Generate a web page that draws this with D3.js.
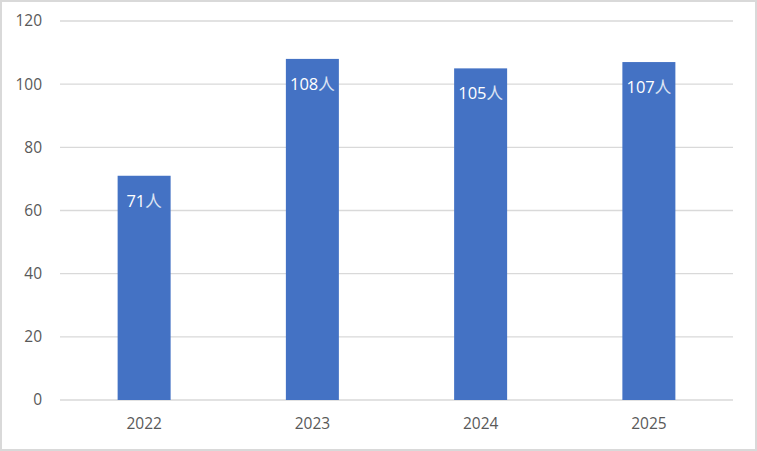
<!DOCTYPE html>
<html><head><meta charset="utf-8">
<script src="https://cdn.jsdelivr.net/npm/d3@7/dist/d3.min.js"></script>
<style>body{margin:0;background:#fff}svg{display:block}text{font-family:"Segoe UI","Open Sans","Noto Sans CJK JP",sans-serif}</style>
</head><body>
<script>
const categories = ["2022","2023","2024","2025"];
const values = [71,108,105,107];
const labelUnit = "人";
const yTicks = [0,20,40,60,80,100,120];

const W=757,H=451;
const svg=d3.select("body").append("svg").attr("width",W).attr("height",H);
svg.append("rect").attr("x",1).attr("y",1).attr("width",W-2).attr("height",H-2)
  .attr("fill","#fff").attr("stroke","#d9d9d9").attr("stroke-width",2);

const x=d3.scaleBand().domain(categories).range([60,733]).paddingInner(0.685).paddingOuter(0.3425);
const y=d3.scaleLinear().domain([0,120]).range([400,21]);

const grid=svg.append("g");
grid.selectAll("line").data(yTicks).join("line")
  .attr("x1",60).attr("x2",733).attr("y1",d=>y(d)).attr("y2",d=>y(d))
  .attr("stroke","#d9d9d9").attr("stroke-width",1.3);

const yAxis=svg.append("g").attr("transform","translate(60,0)")
  .call(d3.axisLeft(y).tickValues(yTicks).tickSize(0).tickPadding(18));
yAxis.select(".domain").remove();
yAxis.selectAll("text").attr("fill","#595959").attr("font-size",15.5);

const xAxis=svg.append("g").attr("transform","translate(0,400)")
  .call(d3.axisBottom(x).tickSize(0).tickPadding(18));
xAxis.select(".domain").remove();
xAxis.selectAll("text").attr("fill","#595959").attr("font-size",15.5);

svg.append("g").selectAll("rect").data(values).join("rect")
  .attr("x",(d,i)=>x(categories[i])).attr("width",x.bandwidth())
  .attr("y",d=>y(d)).attr("height",d=>y(0)-y(d)).attr("fill","#4472c4");

const lbl=svg.append("g").selectAll("text").data(values).join("text")
  .attr("x",(d,i)=>x(categories[i])+x.bandwidth()/2)
  .attr("y",d=>y(d)+31).attr("text-anchor","middle").attr("font-size",16.5).attr("fill","#fff");
lbl.append("tspan").text(d=>d);
lbl.append("tspan").attr("fill","#dbe3f3").text(labelUnit);
</script>
</body></html>
